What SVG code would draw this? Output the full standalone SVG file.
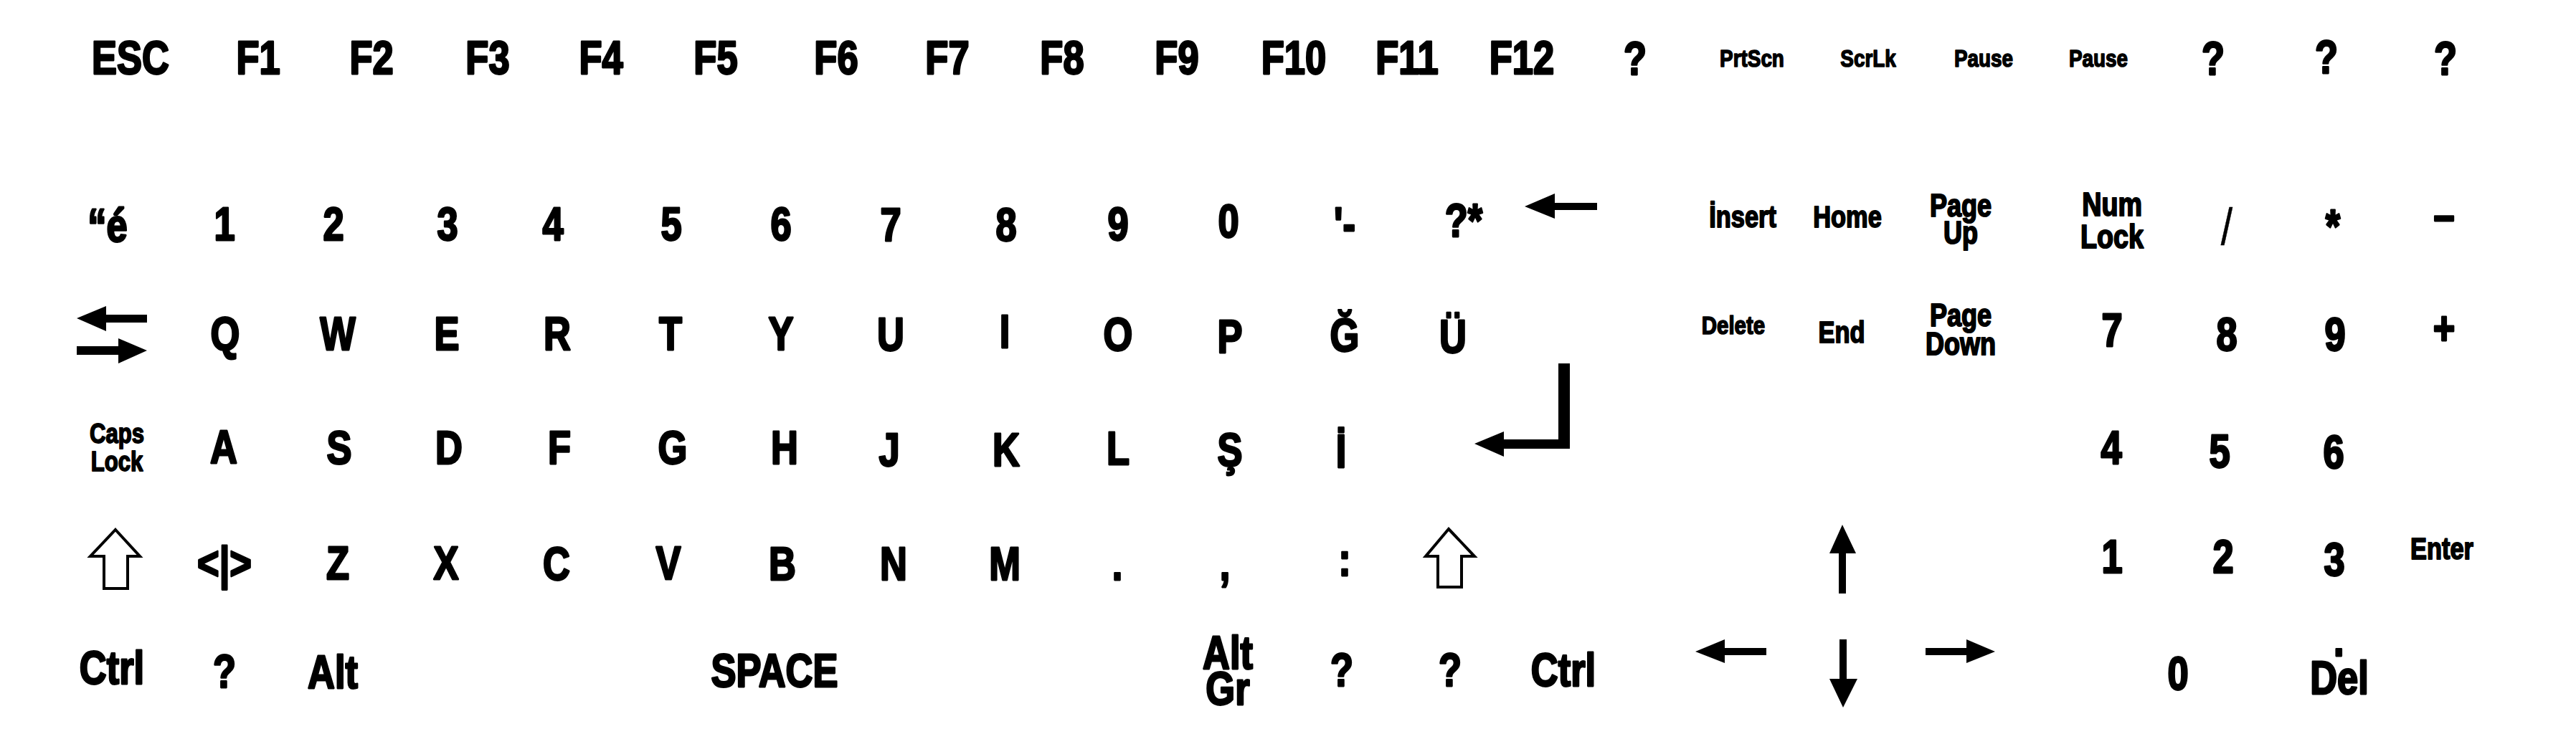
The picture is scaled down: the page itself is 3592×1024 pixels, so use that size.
<svg xmlns="http://www.w3.org/2000/svg" width="3592" height="1024" viewBox="0 0 3592 1024">
<style>
.k{font-family:'Liberation Sans Narrow','Liberation Sans',Arial,sans-serif;font-weight:bold;font-size:64px;text-anchor:middle;fill:#000;stroke:#000;stroke-width:2.8;stroke-linejoin:round;transform-box:fill-box;transform-origin:center;transform:scaleX(0.82)}
.f34{font-size:34px;stroke-width:1.6}.f36{font-size:36px;stroke-width:1.7}.f38{font-size:38px;stroke-width:1.8}.f42{font-size:42px;stroke-width:1.9}.f44{font-size:44px;stroke-width:2}.f46{font-size:46px;stroke-width:2.1}
.thin{font-size:72px;font-weight:normal;stroke-width:0.5}
.ar{fill:#000;stroke:none}
.sh{fill:#fff;stroke:#000;stroke-width:4;stroke-linejoin:miter}
</style>
<rect width="3592" height="1024" fill="#fff"/>
<g id="row-function">
<g id="key-esc"><text class="k" x="182" y="103">ESC</text></g>
<g id="key-f1"><text class="k" x="360" y="103">F1</text></g>
<g id="key-f2"><text class="k" x="518" y="103">F2</text></g>
<g id="key-f3"><text class="k" x="680" y="103">F3</text></g>
<g id="key-f4"><text class="k" x="838" y="103">F4</text></g>
<g id="key-f5"><text class="k" x="998" y="103">F5</text></g>
<g id="key-f6"><text class="k" x="1166" y="103">F6</text></g>
<g id="key-f7"><text class="k" x="1321" y="103">F7</text></g>
<g id="key-f8"><text class="k" x="1481" y="103">F8</text></g>
<g id="key-f9"><text class="k" x="1641" y="103">F9</text></g>
<g id="key-f10"><text class="k" x="1804" y="103">F10</text></g>
<g id="key-f11"><text class="k" x="1962" y="103">F11</text></g>
<g id="key-f12"><text class="k" x="2122" y="103">F12</text></g>
<g id="key-q1"><text class="k" x="2280" y="104">?</text></g>
<g id="key-prtscn"><text class="k f34" x="2443" y="93">PrtScn</text></g>
<g id="key-scrlk"><text class="k f34" x="2605" y="93">ScrLk</text></g>
<g id="key-pause1"><text class="k f34" x="2766" y="93">Pause</text></g>
<g id="key-pause2"><text class="k f34" x="2926" y="93">Pause</text></g>
<g id="key-q2"><text class="k" x="3086" y="104">?</text></g>
<g id="key-q3"><text class="k" x="3244" y="102">?</text></g>
<g id="key-q4"><text class="k" x="3410" y="104">?</text></g>
</g>
<g id="row-number">
<g id="key-quote"><text class="k" x="150" y="337">“é</text></g>
<g id="key-1"><text class="k" x="313" y="335">1</text></g>
<g id="key-2"><text class="k" x="465" y="335">2</text></g>
<g id="key-3"><text class="k" x="624" y="335">3</text></g>
<g id="key-4"><text class="k" x="771" y="335">4</text></g>
<g id="key-5"><text class="k" x="936" y="335">5</text></g>
<g id="key-6"><text class="k" x="1089" y="335">6</text></g>
<g id="key-7"><text class="k" x="1242" y="336">7</text></g>
<g id="key-8"><text class="k" x="1403" y="336">8</text></g>
<g id="key-9"><text class="k" x="1559" y="335">9</text></g>
<g id="key-0"><text class="k" x="1713" y="331">0</text></g>
<g id="key-minus"><text class="k" x="1875" y="335">'-</text></g>
<g id="key-star"><text class="k" x="2041" y="330">?*</text></g>
<g id="key-backspace"><path class="ar" d="M2126,288 L2168,270 L2168,283 L2227,283 L2227,293 L2168,293 L2168,305 Z"/></g>
<g id="key-insert"><text class="k f42" x="2430" y="317">İnsert</text></g>
<g id="key-home"><text class="k f42" x="2576" y="317">Home</text></g>
<g id="key-pageup"><text class="k f44"><tspan x="2734" y="302">Page</tspan><tspan x="2734" y="340">Up</tspan></text></g>
<g id="key-numlock"><text class="k f46"><tspan x="2945" y="301">Num</tspan><tspan x="2945" y="346">Lock</tspan></text></g>
<g id="key-np-slash"><text class="k thin" x="3105" y="341">/</text></g>
<g id="key-np-star"><text class="k" x="3253" y="338">*</text></g>
<g id="key-np-minus"><text class="k" x="3408" y="322">–</text></g>
</g>
<g id="row-q">
<g id="key-tab"><path class="ar" d="M107,444 L148,427 L148,439 L205,439 L205,450 L148,450 L148,462 Z"/><path class="ar" d="M205,489 L165,472 L165,483 L107,483 L107,495 L165,495 L165,507 Z"/></g>
<g id="key-q"><text class="k" x="314" y="488">Q</text></g>
<g id="key-w"><text class="k" x="471" y="488">W</text></g>
<g id="key-e"><text class="k" x="623" y="488">E</text></g>
<g id="key-r"><text class="k" x="777" y="488">R</text></g>
<g id="key-t"><text class="k" x="935" y="488">T</text></g>
<g id="key-y"><text class="k" x="1089" y="488">Y</text></g>
<g id="key-u"><text class="k" x="1242" y="489">U</text></g>
<g id="key-i"><text class="k" x="1401" y="485">I</text></g>
<g id="key-o"><text class="k" x="1559" y="489">O</text></g>
<g id="key-p"><text class="k" x="1715" y="492">P</text></g>
<g id="key-gbreve"><text class="k" x="1875" y="490">Ğ</text></g>
<g id="key-uuml"><text class="k" x="2026" y="492">Ü</text></g>
<g id="key-enter"><path class="ar" d="M2173,507 L2189,507 L2189,626 L2097,626 L2097,637 L2056,619 L2097,602 L2097,613 L2173,613 Z"/></g>
<g id="key-delete"><text class="k f36" x="2417" y="466">Delete</text></g>
<g id="key-end"><text class="k f42" x="2568" y="478">End</text></g>
<g id="key-pagedown"><text class="k f44"><tspan x="2734" y="455">Page</tspan><tspan x="2734" y="495">Down</tspan></text></g>
<g id="key-np-7"><text class="k" x="2945" y="483">7</text></g>
<g id="key-np-8"><text class="k" x="3105" y="489">8</text></g>
<g id="key-np-9"><text class="k" x="3256" y="489">9</text></g>
<g id="key-np-plus"><text class="k" x="3408" y="480">+</text></g>
</g>
<g id="row-a">
<g id="key-capslock"><text class="k f38"><tspan x="163" y="618">Caps</tspan><tspan x="163" y="657">Lock</tspan></text></g>
<g id="key-a"><text class="k" x="312" y="646">A</text></g>
<g id="key-s"><text class="k" x="473" y="647">S</text></g>
<g id="key-d"><text class="k" x="626" y="647">D</text></g>
<g id="key-f"><text class="k" x="780" y="647">F</text></g>
<g id="key-g"><text class="k" x="938" y="647">G</text></g>
<g id="key-h"><text class="k" x="1094" y="647">H</text></g>
<g id="key-j"><text class="k" x="1240" y="650">J</text></g>
<g id="key-k"><text class="k" x="1403" y="650">K</text></g>
<g id="key-l"><text class="k" x="1559" y="648">L</text></g>
<g id="key-scedil"><text class="k" x="1715" y="650">Ş</text></g>
<g id="key-idot"><text class="k" x="1870" y="652">İ</text></g>
<g id="key-np-4"><text class="k" x="2944" y="647">4</text></g>
<g id="key-np-5"><text class="k" x="3095" y="652">5</text></g>
<g id="key-np-6"><text class="k" x="3254" y="653">6</text></g>
</g>
<g id="row-z">
<g id="key-lshift"><path class="sh" d="M161,739 L195,776 L178,776 L178,821 L145,821 L145,776 L126,776 Z"/></g>
<g id="key-lt"><text class="k" x="313" y="808">&lt;|&gt;</text></g>
<g id="key-z"><text class="k" x="471" y="808">Z</text></g>
<g id="key-x"><text class="k" x="622" y="808">X</text></g>
<g id="key-c"><text class="k" x="776" y="809">C</text></g>
<g id="key-v"><text class="k" x="932" y="808">V</text></g>
<g id="key-b"><text class="k" x="1091" y="809">B</text></g>
<g id="key-n"><text class="k" x="1246" y="809">N</text></g>
<g id="key-m"><text class="k" x="1401" y="809">M</text></g>
<g id="key-dot"><text class="k" x="1558" y="809">.</text></g>
<g id="key-comma"><text class="k" x="1708" y="809">,</text></g>
<g id="key-colon"><text class="k" x="1875" y="803">:</text></g>
<g id="key-rshift"><path class="sh" d="M2020,738 L2056,776 L2038,776 L2038,819 L2005,819 L2005,776 L1988,776 Z"/></g>
<g id="key-up"><path class="ar" d="M2569,732 L2588,772 L2574,772 L2574,828 L2564,828 L2564,772 L2551,772 Z"/></g>
<g id="key-np-1"><text class="k" x="2945" y="799">1</text></g>
<g id="key-np-2"><text class="k" x="3100" y="799">2</text></g>
<g id="key-np-3"><text class="k" x="3255" y="803">3</text></g>
<g id="key-np-enter"><text class="k f42" x="3405" y="780">Enter</text></g>
</g>
<g id="row-bottom">
<g id="key-lctrl"><text class="k" x="156" y="954">Ctrl</text></g>
<g id="key-lwin"><text class="k" x="313" y="959">?</text></g>
<g id="key-alt"><text class="k" x="464" y="960">Alt</text></g>
<g id="key-space"><text class="k" x="1080" y="958">SPACE</text></g>
<g id="key-altgr"><text class="k"><tspan x="1712" y="933">Alt</tspan><tspan x="1712" y="983">Gr</tspan></text></g>
<g id="key-rwin"><text class="k" x="1871" y="957">?</text></g>
<g id="key-menu"><text class="k" x="2022" y="957">?</text></g>
<g id="key-rctrl"><text class="k" x="2180" y="957">Ctrl</text></g>
<g id="key-left"><path class="ar" d="M2364,909 L2405,892 L2405,904 L2463,904 L2463,914 L2405,914 L2405,925 Z"/></g>
<g id="key-down"><path class="ar" d="M2565,892 L2575,892 L2575,947 L2590,947 L2570,987 L2551,947 L2565,947 Z"/></g>
<g id="key-right"><path class="ar" d="M2685,904 L2742,904 L2742,892 L2782,909 L2742,925 L2742,914 L2685,914 Z"/></g>
<g id="key-np-0"><text class="k" x="3037" y="962">0</text></g>
<g id="key-np-del"><text class="k"><tspan x="3261" y="915">.</tspan><tspan x="3262" y="968">Del</tspan></text></g>
</g>
<g id="connectors"/>
</svg>
